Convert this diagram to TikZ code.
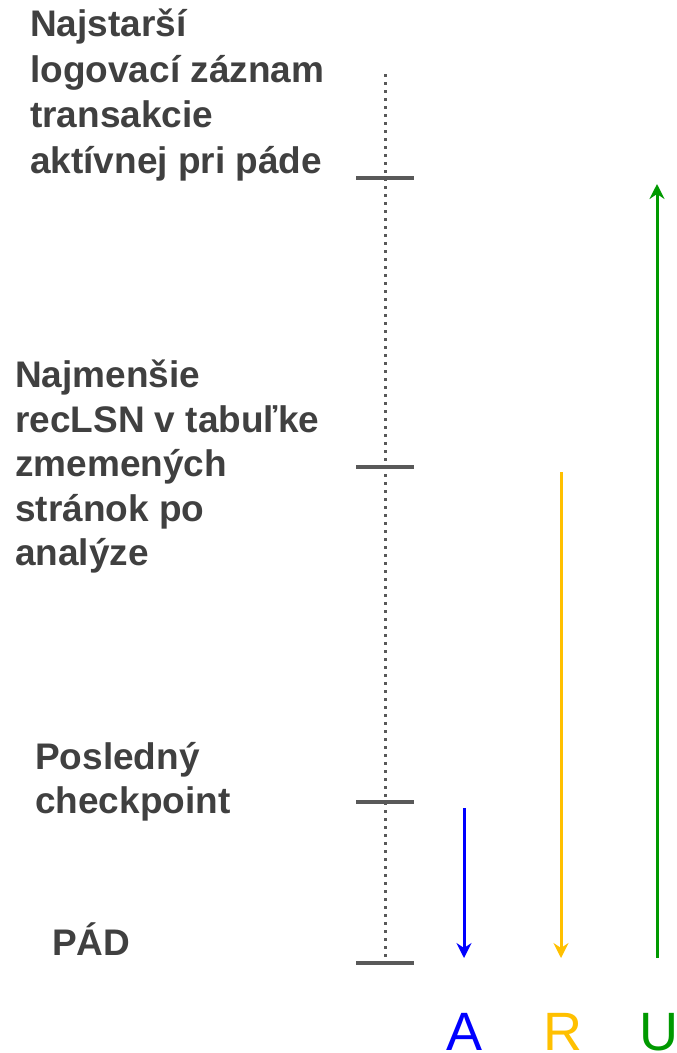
\documentclass[tikz,border=0pt]{standalone}
\usepackage{fontspec}
\setmainfont{Liberation Sans}
\usetikzlibrary{arrows.meta}

\definecolor{txtgray}{HTML}{404040}
\definecolor{axisgray}{HTML}{595959}
\definecolor{undoblue}{HTML}{0000FF}
\definecolor{redoyellow}{HTML}{FFC000}
\definecolor{anagreen}{HTML}{009900}

\tikzset{
  label/.style={anchor=base west, inner sep=0pt, text=txtgray,
    font=\bfseries\fontsize{37}{44}\selectfont},
  phase/.style={anchor=base, inner sep=0pt,
    font=\fontsize{54}{60}\selectfont},
  tickmark/.style={draw=axisgray, line width=3.5pt},
  timeline/.style={draw=axisgray, line width=3pt, dash pattern=on 3pt off 5pt},
  pass/.style={line width=3pt, -{Stealth[length=15pt, width=15pt, inset=5pt]}},
}

\begin{document}
\begin{tikzpicture}[x=1pt, y=-1pt]
\useasboundingbox (0,0) rectangle (677,1053);

% timeline and its tick marks
\coordinate (top) at (385,74);
\coordinate (bottom) at (385,958);
\draw[timeline] (top) -- (bottom);

\coordinate (oldest) at (385,178);
\coordinate (minlsn) at (385,467);
\coordinate (ckpt) at (385,802);
\coordinate (crash) at (385,963);
\foreach \c in {oldest,minlsn,ckpt,crash}
  \draw[tickmark] ([xshift=-29pt]\c) -- ([xshift=29pt]\c);

% labels on the left
\node[label] (o1) at (30,36)  {Najstarší};
\node[label] (o2) at (30,82)  {logovací záznam};
\node[label] (o3) at (30,127) {transakcie};
\node[label] (o4) at (30,173) {aktívnej pri páde};

\node[label] (m1) at (15,387) {Najmenšie};
\node[label] (m2) at (15,432) {recLSN v tabuľke};
\node[label] (m3) at (15,476) {zmemených};
\node[label] (m4) at (15,521) {stránok po};
\node[label] (m5) at (15,565) {analýze};

\node[label] (c1) at (35,769) {Posledný};
\node[label] (c2) at (35,813) {checkpoint};

\node[label] (p1) at (52,955) {PÁD};

% recovery passes
\coordinate (a0) at (464,808);
\coordinate (a1) at (464,958);
\coordinate (r0) at (561,472);
\coordinate (r1) at (561,958);
\coordinate (u0) at (657,958);
\coordinate (u1) at (657,184);
\draw[pass, draw=undoblue, fill=undoblue] (a0) -- (a1);
\draw[pass, draw=redoyellow, fill=redoyellow] (r0) -- (r1);
\draw[pass, draw=anagreen, fill=anagreen] (u0) -- (u1);

\node[phase, text=undoblue] (la) at (465,1050) {A};
\node[phase, text=redoyellow] (lr) at (563,1050) {R};
\node[phase, text=anagreen] (lu) at (659,1050) {U};
\end{tikzpicture}
\end{document}
